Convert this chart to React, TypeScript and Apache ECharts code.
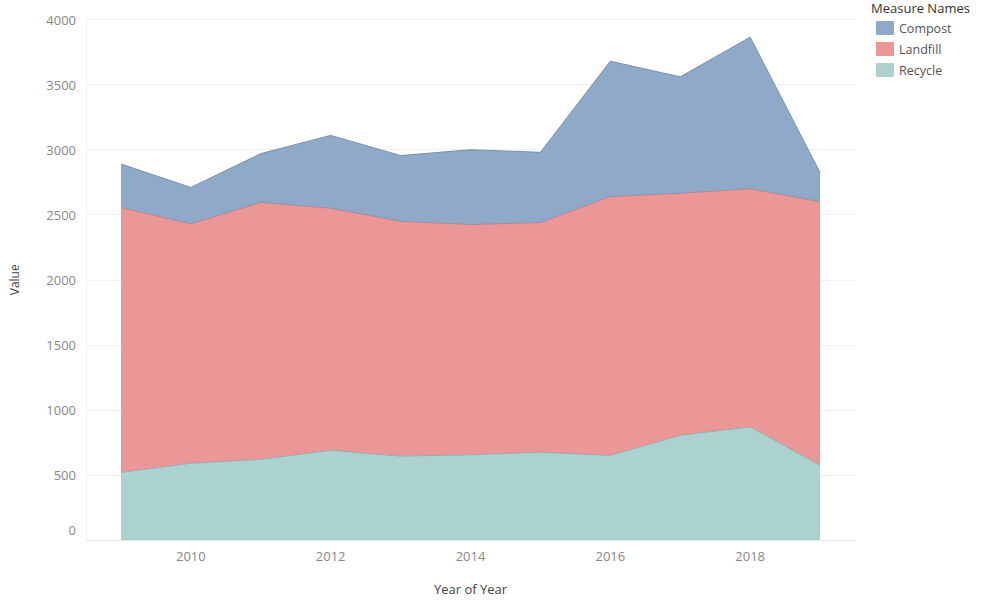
import React, { useEffect, useRef } from "react";
import * as echarts from "echarts";

const years = ["2009", "2010", "2011", "2012", "2013", "2014", "2015", "2016", "2017", "2018", "2019"];
const recycle = [520, 590, 620, 690, 645, 655, 675, 650, 805, 870, 575];
const landfill = [2035, 1840, 1975, 1860, 1805, 1770, 1765, 1990, 1860, 1830, 2025];
const compost = [335, 280, 375, 560, 505, 575, 540, 1040, 895, 1165, 225];
const legendNames = ["Compost", "Landfill", "Recycle"];

const FONT = "'Open Sans', Lato, sans-serif";

export default function App() {
  const ref = useRef<HTMLDivElement>(null);
  useEffect(() => {
    if (!ref.current) return;
    const chart = echarts.init(ref.current, null, { renderer: "svg" });
    const mk = (name: string, data: number[], fill: string, line: string) => ({
      name,
      type: "line",
      stack: "total",
      data,
      symbol: "none",
      lineStyle: { width: 1, color: line },
      itemStyle: { color: fill },
      areaStyle: { color: fill, opacity: 1 },
    });
    chart.setOption({
      animation: false,
      backgroundColor: "#ffffff",
      textStyle: { fontFamily: FONT },
      grid: { left: 85, right: 145, top: 19.6, bottom: 58 },
      title: {
        text: "Measure Names",
        left: 866,
        top: -4,
        textStyle: { fontSize: 13, fontWeight: "normal", color: "#333", fontFamily: FONT },
      },
      legend: {
        data: legendNames,
        orient: "vertical",
        left: 871,
        top: 16,
        icon: "rect",
        itemWidth: 18,
        itemHeight: 14,
        itemGap: 7,
        textStyle: { fontSize: 12.5, color: "#555", fontFamily: FONT },
      },
      xAxis: {
        type: "category",
        data: years,
        boundaryGap: true,
        name: "Year of Year",
        nameLocation: "middle",
        nameGap: 42,
        nameTextStyle: { fontSize: 13, color: "#444", fontFamily: FONT },
        axisLine: { show: true, lineStyle: { color: "#e8e8e8" } },
        axisTick: { show: false },
        axisLabel: {
          color: "#888",
          fontSize: 13,
          margin: 9,
          interval: (i: number) => i % 2 === 1,
        },
        splitLine: { show: false },
      },
      yAxis: {
        type: "value",
        min: 0,
        max: 4000,
        interval: 500,
        name: "Value",
        nameLocation: "middle",
        nameGap: 66,
        nameTextStyle: { fontSize: 12, color: "#444", fontFamily: FONT },
        axisLine: { show: true, lineStyle: { color: "#f0f0f0" } },
        axisTick: { show: false },
        axisLabel: {
          color: "#888",
          fontSize: 13,
          margin: 10,
          formatter: (v: number) => (v === 0 ? "{z|0}" : String(v)),
          rich: { z: { color: "#888", fontSize: 13, fontFamily: FONT, padding: [0, 0, 20, 0] } },
        },
        splitLine: { show: true, lineStyle: { color: "#f0f0f0" } },
      },
      series: [
        mk("Recycle", recycle, "#acd2cf", "#9aa7b3"),
        mk("Landfill", landfill, "#eb9797", "#a88797"),
        mk("Compost", compost, "#8eaac8", "#7a8fac"),
      ],
    });
    return () => chart.dispose();
  }, []);
  return <div ref={ref} style={{ width: 1000, height: 600, position: "absolute", left: 0, top: 0 }} />;
}
